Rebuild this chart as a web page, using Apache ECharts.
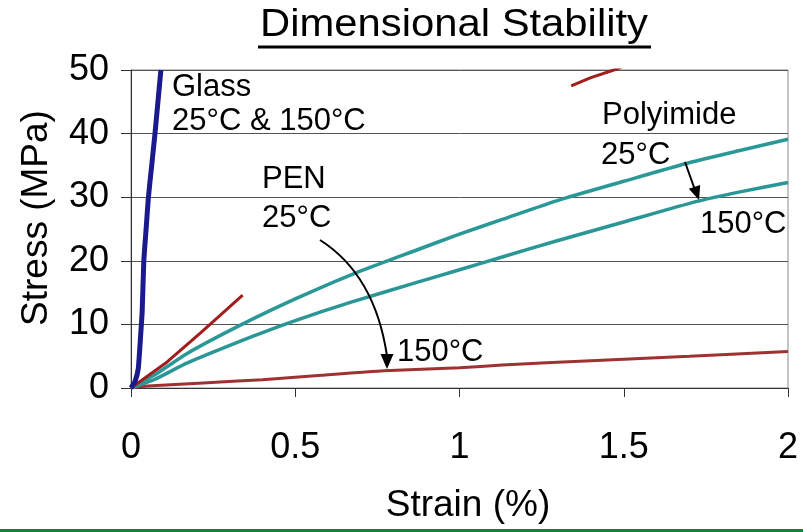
<!DOCTYPE html>
<html>
<head>
<meta charset="utf-8">
<title>Dimensional Stability</title>
<script src="https://cdn.jsdelivr.net/npm/echarts@6/dist/echarts.min.js"></script>
<style>
  html, body { margin: 0; padding: 0; background: #fff; }
  #chart { width: 803px; height: 532px; }
</style>
</head>
<body>
<div id="chart"></div>
<script>
// 坐标轴刻度
const xTicks = [0, 0.5, 1, 1.5, 2];
const yTicks = [0, 10, 20, 30, 40, 50];

// 各曲线数据 [strain %, stress MPa]
const glass = [[0, 0], [0.012, 1], [0.022, 3], [0.029, 8], [0.034, 12], [0.039, 20], [0.046, 25],
  [0.053, 30], [0.063, 35], [0.073, 40], [0.082, 45], [0.091, 50]];
const pen25 = [[0, 0], [0.11, 4.1], [0.21, 8.6], [0.34, 14.6], [0.8, '-'],
  [1.34, 47.5], [1.40, 48.8], [1.47, 50], [1.5, 50.6]];
const pen150 = [[0, 0], [0.05, 0.3], [0.22, 0.8], [0.4, 1.3], [0.58, 2.0], [0.77, 2.7],
  [1.0, 3.2], [1.13, 3.6], [1.4, 4.3], [1.7, 5.0], [2.0, 5.75]];
const pi25 = [[0, 0], [0.07, 2.0], [0.17, 5.4], [0.33, 9.8], [0.5, 14.0], [0.67, 17.8],
  [0.87, 21.7], [1.0, 24.2], [1.13, 26.5], [1.3, 29.5], [1.5, 32.5], [1.69, 35.3],
  [1.85, 37.3], [2.0, 39.1]];
const pi150 = [[0, 0], [0.07, 1.3], [0.17, 3.9], [0.37, 8.1], [0.5, 10.6], [0.67, 13.5],
  [0.87, 16.6], [1.0, 18.6], [1.13, 20.6], [1.3, 23.2], [1.5, 26.1], [1.72, 29.3],
  [1.85, 30.8], [2.0, 32.3]];

const FONT = "'Liberation Sans', Arial, sans-serif";

const chart = echarts.init(document.getElementById('chart'));

// 注释文字
const label = (text, x, y) => ({
  type: 'text', x: x, y: y, z: 100,
  style: { text: text, font: '31px ' + FONT, fill: '#000', verticalAlign: 'middle' }
});

const line = (name, data, color, width, smooth) => ({
  name: name, type: 'line', data: data, showSymbol: false,
  smooth: smooth, connectNulls: false,
  lineStyle: { color: color, width: width }
});

const option = {
  animation: false,
  backgroundColor: '#fff',
  grid: {
    left: 131, right: 15, top: 70, bottom: 144,
    show: true, borderColor: '#8a8a8a', borderWidth: 1
  },
  xAxis: {
    type: 'value',
    min: xTicks[0],
    max: xTicks[xTicks.length - 1],
    interval: 0.5,
    name: 'Strain (%)',
    nameLocation: 'middle',
    nameGap: 99,
    nameTextStyle: { fontSize: 37, fontFamily: FONT, color: '#000', padding: [0, 0, 0, 17] },
    axisLine: { lineStyle: { color: '#333', width: 1 } },
    axisTick: { show: true, inside: false, length: 9, lineStyle: { color: '#333' } },
    axisLabel: { fontSize: 36, fontFamily: FONT, color: '#000', margin: 42 },
    splitLine: { show: false }
  },
  yAxis: {
    type: 'value',
    min: yTicks[0],
    max: yTicks[yTicks.length - 1],
    interval: 10,
    name: 'Stress (MPa)',
    nameLocation: 'middle',
    nameGap: 76,
    nameTextStyle: { fontSize: 37, fontFamily: FONT, color: '#000', padding: [0, 0, 0, 22] },
    axisLine: { show: true, lineStyle: { color: '#333', width: 1 } },
    axisTick: { show: true, inside: false, length: 10, lineStyle: { color: '#333' } },
    axisLabel: { fontSize: 36, fontFamily: FONT, color: '#000', margin: 22 },
    splitLine: { show: true, lineStyle: { color: '#555', width: 1 } }
  },
  series: [
    line('PEN 150°C', pen150, '#9e3232', 3, 0.2),
    line('Polyimide 150°C', pi150, '#2b9696', 3.5, 0.2),
    line('Polyimide 25°C', pi25, '#2b9898', 3.5, 0.2),
    line('PEN 25°C', pen25, '#a01e1e', 3, false),
    line('Glass', glass, '#1a1a8c', 5, 0.15)
  ],
  graphic: [
    // 标题 + 下划线
    {
      type: 'text', x: 454, y: 26, z: 100, scaleX: 1.1,
      style: { text: 'Dimensional Stability', font: '38px ' + FONT, fill: '#000',
        align: 'center', verticalAlign: 'middle' }
    },
    { type: 'rect', shape: { x: 258, y: 45.5, width: 393, height: 3 }, style: { fill: '#000' } },
    label('Glass', 172, 87),
    label('25°C & 150°C', 172, 121),
    label('PEN', 262, 179),
    label('25°C', 262, 218),
    label('150°C', 397, 352),
    label('Polyimide', 602, 115),
    label('25°C', 601, 155),
    label('150°C', 700, 224),
    // PEN 箭头
    {
      type: 'bezierCurve', z: 100,
      shape: { x1: 320, y1: 240, cpx1: 375, cpy1: 275, x2: 387, y2: 356 },
      style: { stroke: '#000', lineWidth: 2, fill: null }
    },
    {
      type: 'polygon', z: 100,
      shape: { points: [[387, 369], [380.5, 354], [393.5, 354]] },
      style: { fill: '#000' }
    },
    // Polyimide 箭头
    {
      type: 'line', z: 100,
      shape: { x1: 685, y1: 162, x2: 695, y2: 190 },
      style: { stroke: '#000', lineWidth: 2 }
    },
    {
      type: 'polygon', z: 100,
      shape: { points: [[699, 200], [700.2, 184.9], [688.8, 188.7]] },
      style: { fill: '#000' }
    },
    // 底部绿线
    { type: 'rect', shape: { x: 0, y: 529, width: 803, height: 3 }, style: { fill: '#1b7f3c' } }
  ]
};

chart.setOption(option);
</script>
</body>
</html>
